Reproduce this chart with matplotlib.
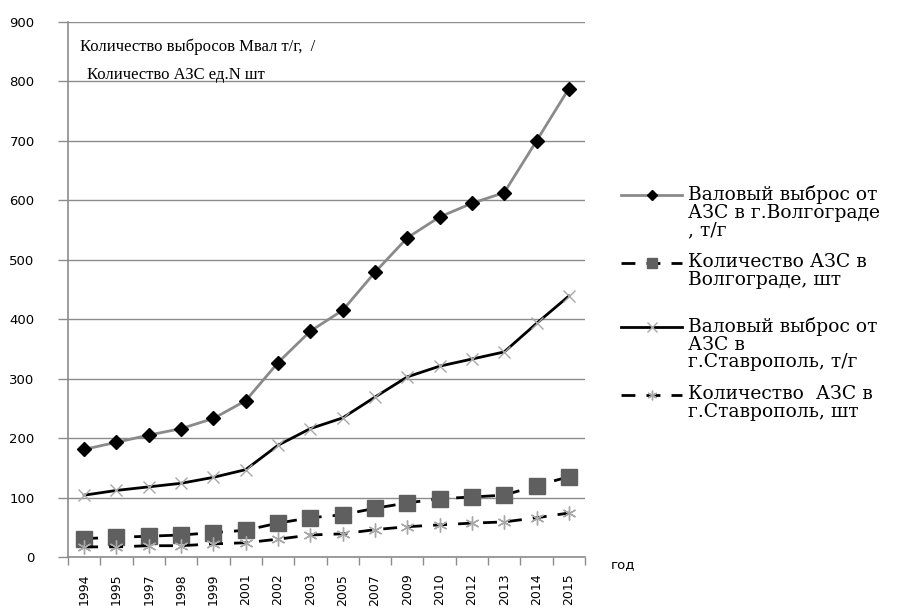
import matplotlib
matplotlib.use("Agg")
import matplotlib.pyplot as plt
from matplotlib.lines import Line2D
import numpy as np

# --- data -------------------------------------------------------------
years = ["1994", "1995", "1997", "1998", "1999", "2001", "2002", "2003",
         "2005", "2007", "2009", "2010", "2012", "2013", "2014", "2015"]

volg_emission = [181, 193, 205, 216, 233, 263, 327, 380, 415, 479,
                 537, 572, 595, 613, 700, 788]
volg_stations = [31, 33, 35, 37, 41, 45, 57, 66, 71, 82,
                 91, 98, 101, 104, 120, 135]
stav_emission = [104, 112, 118, 124, 134, 147, 188, 216, 234, 269,
                 303, 321, 333, 345, 393, 439]
stav_stations = [17, 17, 19, 19, 22, 24, 30, 37, 39, 46,
                 51, 54, 57, 59, 66, 74]

series_labels = [
    "Валовый выброс от\nАЗС в г.Волгограде\n, т/г",
    "Количество АЗС в\nВолгограде, шт",
    "Валовый выброс от\nАЗС в\nг.Ставрополь, т/г",
    "Количество  АЗС в\nг.Ставрополь, шт",
]
y_ticks = [0, 100, 200, 300, 400, 500, 600, 700, 800, 900]
axis_note = ["Количество выбросов Мвал т/г,  /", "Количество АЗС ед.N шт"]
x_title = "год"

# --- figure -----------------------------------------------------------
W, H = 902, 613
fig = plt.figure(figsize=(W / 100, H / 100), dpi=100)
ax = fig.add_axes([68 / W, 1 - 557 / H, (585 - 68) / W, (557 - 22) / H])

serif = "Liberation Serif"
wide_serif = "DejaVu Serif"
sans = "DejaVu Sans"
grid_col = "#8c8c8c"

x = np.arange(len(years))

styles = [
    dict(color="#8a8a8a", lw=2.0, ls="-", marker="D", ms=7,
         mfc="black", mec="black"),
    dict(color="black", lw=2.0, ls=(0, (5, 4)), marker="s", ms=11,
         mfc="#5f5f5f", mec="#5f5f5f"),
    dict(color="black", lw=2.0, ls="-", marker="x", ms=9,
         mfc="#a8a8a8", mec="#a8a8a8", mew=1.0),
    dict(color="black", lw=2.0, ls=(0, (5, 4)), marker=(6, 2, 0), ms=10,
         mfc="#a8a8a8", mec="#a8a8a8", mew=1.0),
]
legend_ms = [5, 7, 7, 7]
data = [volg_emission, volg_stations, stav_emission, stav_stations]

for vals, st in zip(data, styles):
    ax.plot(x, vals, zorder=3, **st)

ax.set_xlim(-0.5, len(years) - 0.5)
ax.set_ylim(0, 900)
ax.set_yticks(y_ticks)
ax.set_yticklabels([str(v) for v in y_ticks], fontfamily=sans, fontsize=9.5)
ax.tick_params(axis="y", length=7, width=1, color=grid_col, pad=17)

# category boundaries carry the tick marks, centres carry the labels
ax.set_xticks(np.arange(len(years) + 1) - 0.5)
ax.set_xticklabels([])
ax.set_xticks(x, minor=True)
ax.set_xticklabels(years, minor=True, rotation=90, fontfamily=sans,
                   fontsize=9, va="top")
ax.tick_params(axis="x", which="major", length=6, width=1, color=grid_col)
ax.tick_params(axis="x", which="minor", length=0, pad=12)

ax.grid(axis="y", color=grid_col, lw=1)
ax.set_axisbelow(True)
for side in ["top", "right"]:
    ax.spines[side].set_visible(False)
for side in ["left", "bottom"]:
    ax.spines[side].set_color(grid_col)
    ax.spines[side].set_linewidth(1.2)


def px(xp, yp):
    return xp / W, 1 - yp / H


# axis note inside the plot
fig.text(*px(80, 47), axis_note[0], fontfamily=serif, fontsize=12,
         va="center", ha="left")
fig.text(*px(87, 75), axis_note[1], fontfamily=serif, fontsize=12,
         va="center", ha="left")

fig.text(*px(611, 565), x_title, fontfamily=sans, fontsize=9.5,
         va="center", ha="left")

# legend drawn at the right of the plot
entry_y = [195, 263, 327, 395]
for lab, st, yy, lms in zip(series_labels, styles, entry_y, legend_ms):
    x0, y0 = px(621, yy)
    x1, _ = px(682, yy)
    xm, _ = px(652, yy)
    line_kw = {k: st[k] for k in ("color", "lw", "ls")}
    fig.add_artist(Line2D([x0, x1], [y0, y0], transform=fig.transFigure,
                          **line_kw))
    mk = {k: v for k, v in st.items() if k not in ("color", "lw", "ls")}
    mk["ms"] = lms
    fig.add_artist(Line2D([xm], [y0], transform=fig.transFigure,
                          ls="none", **mk))
    fig.text(*px(688, yy - 10), lab, fontfamily=wide_serif, fontsize=13.5,
             va="top", ha="left", linespacing=0.98)

fig.savefig("out.png", dpi=100, facecolor="white")
